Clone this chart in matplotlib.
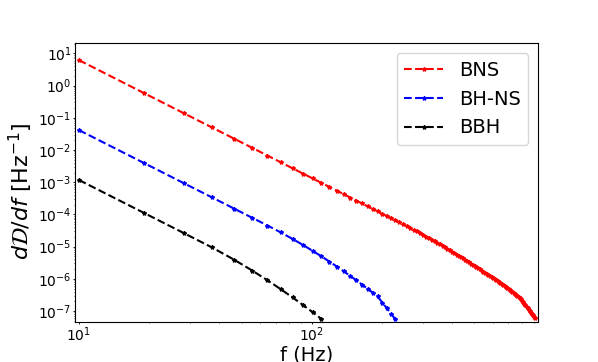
import numpy as np
import matplotlib
matplotlib.use('Agg')
import matplotlib.pyplot as plt

# frequency grid (Hz), shared by the three curves
freq = [10.0, 19.1, 28.2, 37.3, 46.4, 55.5, 64.6, 73.7, 82.8, 91.9,
        101.0, 110.1, 119.2, 128.3, 137.4, 146.5, 155.6, 164.7, 173.8, 182.9,
        192.0, 201.1, 210.2, 219.3, 228.4, 237.5, 246.6, 255.7, 264.8, 273.9,
        283.0, 292.1, 301.2, 310.3, 319.4, 328.5, 337.6, 346.7, 355.8, 364.9,
        374.0, 383.1, 392.2, 401.3, 410.4, 419.5, 428.6, 437.7, 446.8, 455.9,
        465.0, 474.1, 483.2, 492.3, 501.4, 510.5, 519.6, 528.7, 537.8, 546.9,
        556.0, 565.1, 574.2, 583.3, 592.4, 601.5, 610.6, 619.7, 628.8, 637.9,
        647.0, 656.1, 665.2, 674.3, 683.4, 692.5, 701.6, 710.7, 719.8, 728.9,
        738.0, 747.1, 756.2, 765.3, 774.4, 783.5, 792.6, 801.7, 810.8, 819.9,
        829.0, 838.1, 847.2, 856.3, 865.4, 874.5, 883.6, 892.7, 901.8, 910.9]

# log10 of dD/df
bns_log = [0.792, -0.237, -0.856, -1.300, -1.647, -1.932, -2.173, -2.383, -2.568, -2.734,
           -2.884, -3.021, -3.147, -3.264, -3.373, -3.475, -3.571, -3.661, -3.747, -3.828,
           -3.905, -3.978, -4.049, -4.116, -4.181, -4.243, -4.303, -4.361, -4.419, -4.475,
           -4.530, -4.584, -4.637, -4.689, -4.739, -4.790, -4.838, -4.887, -4.934, -4.981,
           -5.027, -5.071, -5.116, -5.160, -5.202, -5.245, -5.287, -5.328, -5.368, -5.408,
           -5.448, -5.487, -5.525, -5.563, -5.600, -5.637, -5.674, -5.710, -5.745, -5.781,
           -5.816, -5.850, -5.884, -5.918, -5.951, -5.984, -6.017, -6.049, -6.081, -6.113,
           -6.143, -6.174, -6.205, -6.234, -6.265, -6.295, -6.324, -6.353, -6.382, -6.411,
           -6.440, -6.467, -6.496, -6.523, -6.551, -6.588, -6.637, -6.684, -6.731, -6.779,
           -6.825, -6.870, -6.915, -6.959, -7.003, -7.047, -7.091, -7.133, -7.175, -7.217]

bhns_log = [-1.380, -2.409, -3.028, -3.472, -3.819, -4.104, -4.345, -4.560, -4.762, -4.952,
            -5.132, -5.302, -5.465, -5.620, -5.768, -5.911, -6.048, -6.180, -6.307, -6.430,
            -6.549, -6.736, -6.914, -7.086, -7.250]

bbh_log = [-2.930, -3.959, -4.578, -5.026, -5.405, -5.742, -6.046, -6.324, -6.579, -6.817,
           -7.038, -7.247]

f = np.array(freq)
fig = plt.figure(figsize=(5.98, 3.62), dpi=100)
ax = plt.gca()

plt.loglog(f[:len(bns_log)], 10 ** np.array(bns_log), 'r--', marker='*', markersize=3, label='BNS')
plt.loglog(f[:len(bhns_log)], 10 ** np.array(bhns_log), 'b--', marker='*', markersize=3, label='BH-NS')
plt.loglog(f[:len(bbh_log)], 10 ** np.array(bbh_log), 'k--', marker='*', markersize=3, label='BBH')

plt.xlim(9.6, 940)
plt.ylim(4.5e-8, 20.4)
plt.tick_params(which='major', length=1.5, pad=0.8, width=0.6)
plt.tick_params(which='minor', length=1.0, pad=0.8, width=0.5)
plt.xlabel('f (Hz)', fontsize=14, labelpad=1)
plt.ylabel(r'$d\mathcal{D}/df$ [Hz$^{-1}$]', fontsize=16)
ax.yaxis.set_label_coords(-0.086, 0.47)
plt.legend(loc='upper right', fontsize=14)

plt.savefig('out.png', dpi=100)
